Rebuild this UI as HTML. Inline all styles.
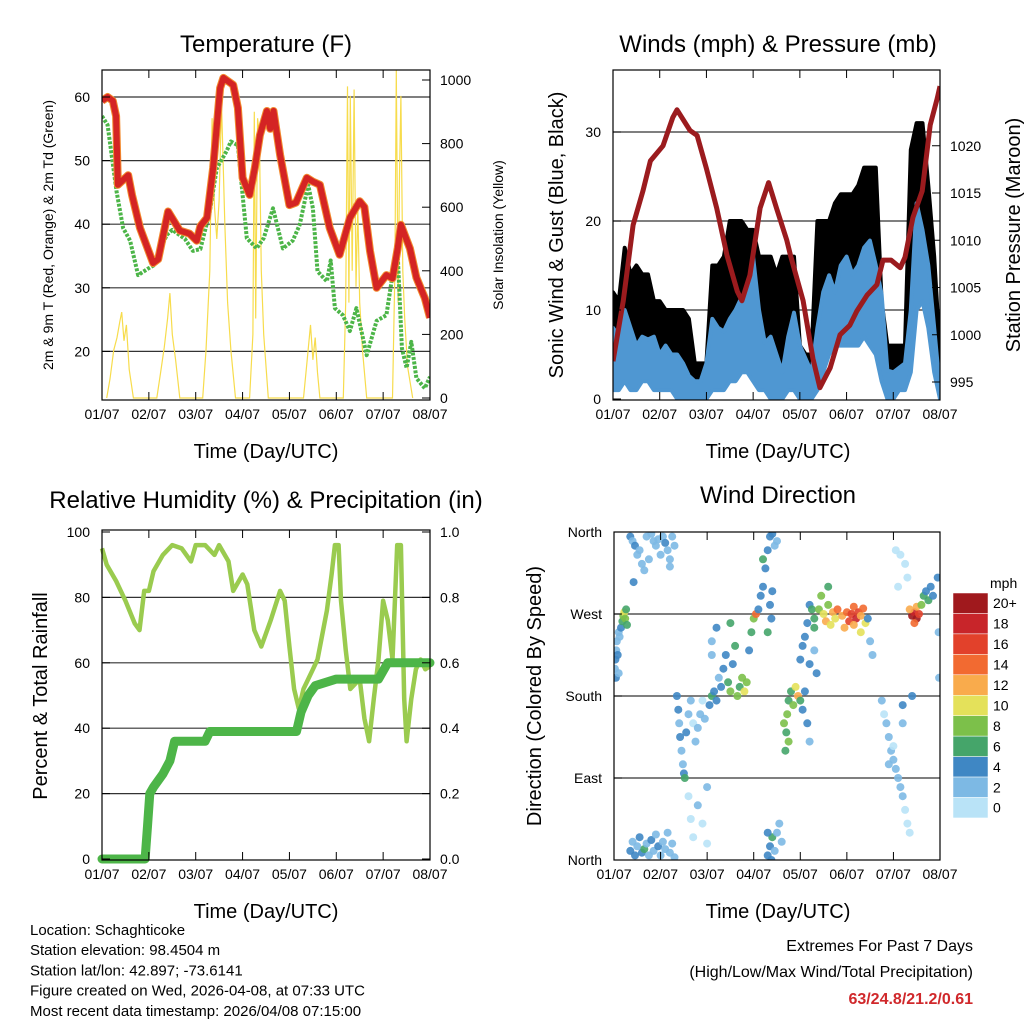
<!DOCTYPE html>
<html><head><meta charset="utf-8"><style>
body{margin:0;background:#fff}
svg{display:block;font-family:"Liberation Sans",Arial,sans-serif}
</style></head><body>
<svg id="chart" width="1024" height="1024" viewBox="0 0 1024 1024"></svg>
<script>
// ---------- DATA ----------
const dayLabels=["01/07","02/07","03/07","04/07","05/07","06/07","07/07","08/07"];
const tempT=[0,0.12,0.23,0.3,0.34,0.56,0.64,0.81,1.09,1.2,1.41,1.66,1.87,2.02,2.1,2.24,2.37,2.52,2.59,2.8,2.9,3.0,3.15,3.26,3.37,3.52,3.59,3.66,3.8,4.0,4.14,4.37,4.5,4.65,4.86,5.07,5.29,5.5,5.6,5.72,5.86,6.07,6.2,6.31,6.38,6.57,6.71,6.89,7.0];
const tempV=[59.4,60,59.4,57,46.2,47.7,44.6,39.4,33.9,34.5,42,39,38.5,37.4,39.7,41,48.8,61.4,63,61.9,58.3,47.3,44.6,48.8,54,57.8,55,57.8,50.9,43,43.4,47.3,46.7,46.2,39.4,35.2,41,43.6,42.7,35.8,30,32,31.5,36.2,39.9,36.2,31.6,28.4,25.3];
const tdT=[0,0.12,0.31,0.45,0.6,0.77,0.98,1.1,1.38,1.5,1.77,1.94,2.1,2.3,2.45,2.66,2.75,2.9,3.0,3.09,3.3,3.45,3.65,3.86,4.07,4.22,4.4,4.5,4.6,4.8,4.88,4.97,5.14,5.29,5.43,5.65,5.86,6.07,6.2,6.31,6.4,6.5,6.6,6.71,6.89,7.0];
const tdV=[57,55.6,45.2,39.4,37.4,32,33,33.5,38.3,39.1,37.7,35.8,36.1,42,48.8,51.5,53,52.4,44.6,37.8,36.2,37.8,42.5,36.2,37.4,39.9,46.2,42.5,32.6,31,34.3,26.8,25.7,23.2,26.8,19.4,24.8,25.7,32,35.2,20.5,17.4,21.5,15.8,14.2,16];
const solarT=[0.10,0.17,0.25,0.32,0.38,0.42,0.47,0.52,0.58,0.67, 1.17,1.25,1.33,1.4,1.45,1.5,1.57,1.66, 2.15,2.22,2.3,2.35,2.4,2.45,2.5,2.55,2.62,2.68,2.75,2.85, 3.15,3.22,3.25,3.28,3.32,3.36,3.4,3.45,3.55, 4.3,4.38,4.45,4.5,4.55,4.6,4.65, 5.15,5.2,5.24,5.27,5.3,5.34,5.38,5.42,5.46,5.5,5.56,5.65, 6.2,6.25,6.28,6.32,6.35,6.38,6.42,6.46,6.52,6.63];
const solarV=[0,60,150,190,240,270,180,230,90,0, 0,80,160,250,330,200,120,0, 0,150,400,880,600,500,620,930,550,300,150,0, 0,200,900,250,880,820,400,200,0, 0,120,230,120,190,80,0, 0,300,980,300,950,400,970,350,600,300,150,0, 0,400,1030,300,700,950,400,250,100,0];
const presT=[0,0.22,0.43,0.64,0.8,1.07,1.28,1.37,1.65,1.8,2.0,2.22,2.44,2.66,2.76,2.93,3.15,3.33,3.5,3.72,3.8,4.07,4.28,4.43,4.65,4.86,5.07,5.22,5.44,5.65,5.78,5.95,6.15,6.25,6.42,6.62,6.79,6.94,7];
const presV=[997.2,1003.6,1011.6,1015.2,1018.4,1020,1023,1023.8,1021.6,1021.1,1017.6,1013.4,1008.4,1004.6,1003.6,1006.3,1013.4,1016.1,1013.4,1010,1008.4,1003.6,997.5,994.4,996.5,1000,1001,1002.5,1004.2,1005.3,1007.9,1007.9,1007.1,1008.2,1012.4,1015.2,1022.2,1025,1026.3];
const windT=[0,0.125,0.25,0.375,0.5,0.625,0.75,0.875,1,1.125,1.25,1.375,1.5,1.625,1.75,1.875,2,2.125,2.25,2.375,2.5,2.625,2.75,2.875,3,3.125,3.25,3.375,3.5,3.625,3.75,3.875,4,4.125,4.25,4.375,4.5,4.625,4.75,4.875,5,5.125,5.25,5.375,5.5,5.625,5.75,5.875,6,6.125,6.25,6.375,6.5,6.625,6.75,6.875,7];
const blueHi=[8,7,10,8,6,7,6.7,7, 5,6,5,5,4,2.6,2,2, 4,9,8,7.6,9,10,11.4,12, 16,10,6.3,7,5,3,7,9.7, 6,4.5,3,8,12,13.9,12,15, 16,14,15,17,17.8,15,11.8,3.2, 3,3.5,4,10,22,19,15,8, 1];
const blueLo=[1,1,2,1,1,2,2,1, 1,1,1,0,0,0,0,0, 0,1,1,1,2,2,3,3, 2,1,1,0,0,0,1,1, 0,0,0,1,3,5,6,6, 6,6,6,7,6,5,2,0, 0,1,1,3,10,11,8,3, 0];
const gustHi=[12,11,17,14,15,14,14,11, 11,10,10,10,10,9,4,4, 4,15,15,16,20,20,20,19, 19,16,16,16,14,16,16,16, 6,5,5,20,20,20,22,23, 23,23,24,26,26,26,11,6, 6,6,6,28,31,31,24,16, 5];
const gustLo=[4,4,5,4,3,4,4,3, 3,3,3,2,1,0,0,0, 1,4,4,4,5,5,6,6, 6,4,3,3,2,1,3,4, 1,1,1,3,6,8,8,9, 10,9,10,11,11,9,5,2, 2,2,2,6,14,13,10,5, 1];
const rhT=[0,0.1,0.3,0.5,0.7,0.8,0.9,1.0,1.1,1.3,1.5,1.7,1.9,2.0,2.2,2.4,2.5,2.7,2.8,3.0,3.1,3.25,3.4,3.6,3.8,3.9,4.0,4.1,4.2,4.3,4.5,4.6,4.8,4.9,4.97,5.05,5.1,5.2,5.3,5.5,5.6,5.7,5.8,5.9,6.0,6.1,6.2,6.3,6.38,6.45,6.5,6.6,6.7,6.8,6.9,7];
const rhV=[95,90,85,79,72,70,82,82,88,93,96,95,91,96,96,93,96,91,82,87,84,70,65,73,82,79,65,52,46,52,58,61,76,87,96,96,79,64,52,55,43,36,49,61,79,73,61,96,96,49,36,49,58,61,58,59];
const precT=[0,0.92,0.97,1.02,1.1,1.3,1.45,1.55,2.2,2.3,4.15,4.25,4.4,4.55,5.0,5.9,6.1,7];
const precV=[0,0,0.1,0.2,0.22,0.26,0.3,0.36,0.36,0.39,0.39,0.45,0.5,0.53,0.55,0.55,0.6,0.6];
const windObs=[
[0.02,210,3],[0.03,220,4],[0.05,230,2],[0.06,240,3],[0.08,225,4],[0.1,250,3],[0.12,245,2],[0.15,255,4],[0.18,262,6],[0.2,268,8],[0.22,272,10],[0.24,265,8],[0.26,275,7],[0.28,258,6],[0.04,200,4],[0.1,205,2],
[0.35,355,4],[0.4,350,3],[0.45,345,4],[0.5,335,3],[0.55,340,2],[0.6,325,3],[0.65,318,2],[0.7,355,2],[0.8,358,2],[0.85,350,3],[0.9,345,2],[0.95,352,3],[1.05,355,2],[1.1,348,4],[1.15,340,2],[1.2,330,3],[1.25,355,2],[1.3,345,2],[0.75,330,3],[1.0,335,2],[0.42,305,4],[1.2,322,2],
[0.35,10,4],[0.4,20,3],[0.45,5,4],[0.5,15,3],[0.55,25,4],[0.6,8,4],[0.65,12,6],[0.7,18,3],[0.75,5,2],[0.8,22,4],[0.85,10,3],[0.9,28,2],[0.95,15,4],[1.0,5,2],[1.05,20,2],[1.1,12,3],[1.15,30,2],[1.2,8,2],[1.25,18,3],[1.3,3,2],
[1.35,180,4],[1.38,165,4],[1.4,150,3],[1.42,135,4],[1.45,120,3],[1.48,105,2],[1.5,95,4],[1.52,90,6],[1.55,140,4],[1.6,160,2],[1.65,175,2],[1.7,150,0],[1.75,130,2],[1.8,145,2],[1.85,160,2],[1.9,175,0],[1.95,155,2],[1.6,70,0],[1.65,45,0],[1.7,25,0],[1.8,60,2],[1.9,40,0],[2.0,80,2],[2.0,18,0],
[2.05,170,4],[2.1,180,6],[2.15,185,4],[2.2,175,4],[2.25,200,2],[2.3,190,4],[2.35,210,4],[2.4,225,4],[2.45,195,6],[2.5,185,8],[2.55,215,4],[2.6,235,6],[2.65,180,8],[2.7,190,6],[2.75,200,8],[2.8,185,10],[2.85,195,8],[2.1,240,2],[2.2,255,4],[2.5,260,6],[2.1,225,2],
[2.9,230,4],[2.95,250,6],[3.0,265,8],[3.05,270,14],[3.1,275,4],[3.15,290,4],[3.2,300,4],[3.25,320,4],[3.3,340,4],[3.35,355,4],[3.4,358,4],[3.45,345,2],[3.3,250,6],[3.35,280,4],[3.4,295,4],[3.5,350,2],[3.38,265,4],[3.2,330,6],
[3.3,5,4],[3.35,15,4],[3.4,25,6],[3.45,10,2],[3.5,30,2],[3.55,40,2],[3.3,30,4],[3.38,0,4],[3.6,20,2],
[3.65,150,8],[3.7,140,6],[3.72,160,8],[3.75,175,6],[3.8,185,6],[3.85,170,8],[3.9,190,10],[3.95,180,12],[4.0,175,6],[4.05,165,4],[4.1,185,4],[4.15,150,4],[4.2,130,2],[3.75,130,8],[3.68,120,6],
[4.0,220,4],[4.05,235,4],[4.1,245,4],[4.15,260,4],[4.2,280,4],[4.25,275,6],[4.2,215,4],[4.3,230,2],[4.35,205,4],
[4.3,265,6],[4.4,275,8],[4.5,270,10],[4.55,262,12],[4.6,280,8],[4.7,272,12],[4.75,265,10],[4.8,275,14],[4.9,268,12],[5.0,272,14],[5.05,262,16],[5.1,270,16],[5.15,278,14],[5.2,265,18],[5.25,272,16],[5.3,268,12],[5.35,276,14],[5.4,260,10],[4.45,290,8],[4.6,300,6],[4.3,255,6],[5.45,265,4],[5.5,240,2],[5.55,225,2],[5.3,250,10],[4.65,258,10],[4.95,255,12],[5.15,258,12],
[5.75,175,2],[5.8,160,0],[5.85,150,2],[5.9,135,2],[5.95,120,2],[6.0,110,2],[6.05,100,2],[6.1,90,2],[6.15,80,2],[6.2,70,2],[6.25,55,0],[6.3,40,0],[6.35,30,0],[5.9,105,2],[6.0,125,0],[6.2,170,4],[6.2,150,2],
[6.05,340,0],[6.15,335,0],[6.25,325,0],[6.3,310,0],[6.1,300,0],
[6.4,268,20],[6.45,272,18],[6.5,265,20],[6.55,270,16],[6.45,260,14],[6.5,278,12],[6.6,280,8],[6.65,290,6],[6.7,295,4],[6.75,285,6],[6.8,300,4],[6.85,290,4],[6.35,275,12],[6.4,180,4],[6.95,310,4],[6.98,200,2],[6.97,250,2]
];
const speedLabels=["0","2","4","6","8","10","12","14","16","18","20+"];
const speedColors=["#b9e3f7","#7db9e4","#3f87c4","#45a56a","#7cc04a","#e4e15a","#f9ab4c","#f26a31","#e2412b","#c8252a","#a0191d"];

// ---------- HELPERS ----------
const NS="http://www.w3.org/2000/svg";
const svg=document.getElementById("chart");
function mk(tag,attrs,parent,txt){const e=document.createElementNS(NS,tag);for(const k in attrs)e.setAttribute(k,attrs[k]);if(txt!==undefined)e.textContent=txt;(parent||svg).appendChild(e);return e;}
function pathOf(ts,vs,fx,fy){return ts.map((t,i)=>(i?"L":"M")+fx(t).toFixed(1)+","+fy(vs[i]).toFixed(1)).join("");}
function bandOf(ts,hi,lo,fx,fy){let d=ts.map((t,i)=>(i?"L":"M")+fx(t).toFixed(1)+","+fy(hi[i]).toFixed(1)).join("");for(let i=ts.length-1;i>=0;i--)d+="L"+fx(ts[i]).toFixed(1)+","+fy(lo[i]).toFixed(1);return d+"Z";}
function clip(id,b){const c=mk("clipPath",{id:id},svg);mk("rect",{x:b.x0,y:b.y0,width:b.x1-b.x0,height:b.y1-b.y0},c);}
function xticks(b,g){
  dayLabels.forEach((l,i)=>{const x=b.x0+i*(b.x1-b.x0)/7;
    mk("line",{x1:x,x2:x,y1:b.y1,y2:b.y1-8,stroke:"#000","stroke-width":1},g);
    mk("line",{x1:x,x2:x,y1:b.y0,y2:b.y0+8,stroke:"#000","stroke-width":1},g);
    const t=mk("text",{x:x,y:b.y1+19,"text-anchor":"middle","font-size":14},g,l);
    
    
  });
}
function yticks(vals,labels,fy,b,side,g){
  vals.forEach((v,i)=>{const y=fy(v);
    if(side==="left"){mk("line",{x1:b.x0,x2:b.x0+8,y1:y,y2:y,stroke:"#000"},g);}
    else{mk("line",{x1:b.x1,x2:b.x1-8,y1:y,y2:y,stroke:"#000"},g);}
    const t=mk("text",{x:side==="left"?b.x0-12:b.x1+10,y:y+5,"text-anchor":side==="left"?"end":"start","font-size":14},g,labels[i]);
    
    
  });
}
function grid(vals,fy,b,g){vals.forEach(v=>{const y=fy(v);mk("line",{x1:b.x0,x2:b.x1,y1:y,y2:y,stroke:"#333","stroke-width":1.2},g);});}
function frame(b,g){const r=mk("rect",{x:b.x0,y:b.y0,width:b.x1-b.x0,height:b.y1-b.y0,fill:"none",stroke:"#000","stroke-width":1.2},g);}
function text(x,y,s,size,name,extra,g){const a=Object.assign({x:x,y:y,"font-size":size},extra||{});const t=mk("text",a,g||svg,s);return t;}
function vtext(x,y,s,size,name,g){const t=mk("text",{x:0,y:0,"font-size":size,"text-anchor":"middle",transform:"translate("+x+","+y+") rotate(-90)"},g||svg,s);return t;}

// ---------- PANEL 1: TEMPERATURE ----------
const B1={x0:102,x1:430,y0:70,y1:400};
const x1s=d=>B1.x0+d*(B1.x1-B1.x0)/7;
const tY=v=>97+(60-v)*6.36;
const sY=v=>398-v*0.318;
const g1=mk("g",{});  
clip("c1",B1);
grid([20,30,40,50,60],tY,B1,g1);
const gd1=mk("g",{"clip-path":"url(#c1)"},g1);
const sol=mk("path",{d:pathOf(solarT,solarV,x1s,sY),fill:"none",stroke:"#f7dc4c","stroke-width":1.2},gd1);
 
const td=mk("path",{d:pathOf(tdT,tdV,x1s,tY),fill:"none",stroke:"#4cb548","stroke-width":4,"stroke-dasharray":"3,1.5","stroke-linejoin":"round"},gd1);
 
const t9=mk("path",{d:pathOf(tempT,tempV,x1s,tY),fill:"none",stroke:"#f28a2e","stroke-width":8,"stroke-linejoin":"round"},gd1);
 
const t2=mk("path",{d:pathOf(tempT,tempV,x1s,tY),fill:"none",stroke:"#d42424","stroke-width":6,"stroke-linejoin":"round"},gd1);
 
frame(B1,g1); xticks(B1,g1);
yticks([20,30,40,50,60],["20","30","40","50","60"],tY,B1,"left",g1);
yticks([0,200,400,600,800,1000],["0","200","400","600","800","1000"],sY,B1,"right",g1);
text(266,52,"Temperature (F)",24,"temperature-title",{"text-anchor":"middle"},g1);
text(266,458,"Time (Day/UTC)",20,"x-axis-title",{"text-anchor":"middle"},g1);
vtext(53,235,"2m & 9m T (Red, Orange) & 2m Td (Green)",14,"temperature-y-title",g1);
vtext(503,235,"Solar Insolation (Yellow)",14,"solar-y-title",g1);

// ---------- PANEL 2: WINDS ----------
const B2={x0:613,x1:940,y0:70,y1:400};
const x2s=d=>B2.x0+d*(B2.x1-B2.x0)/7;
const wY=v=>399-v*8.9;
const pY=p=>382-(p-995)*9.45;
const g2=mk("g",{});  
clip("c2",B2);
grid([10,20,30],wY,B2,g2);
const gd2=mk("g",{"clip-path":"url(#c2)"},g2);
const gb=mk("path",{d:bandOf(windT,gustHi,gustLo,x2s,wY),fill:"#000",stroke:"#000","stroke-width":4,"stroke-linejoin":"round"},gd2);
 
const bb=mk("path",{d:bandOf(windT,blueHi,blueLo,x2s,wY),fill:"#4f97d2",stroke:"#4f97d2","stroke-width":4,"stroke-linejoin":"round"},gd2);
 
const pr=mk("path",{d:pathOf(presT,presV,x2s,pY),fill:"none",stroke:"#9b1b1e","stroke-width":5,"stroke-linejoin":"round"},gd2);
 
frame(B2,g2); xticks(B2,g2);
yticks([0,10,20,30],["0","10","20","30"],wY,B2,"left",g2);
yticks([995,1000,1005,1010,1015,1020],["995","1000","1005","1010","1015","1020"],pY,B2,"right",g2);
text(778,52,"Winds (mph) & Pressure (mb)",24,"winds-title",{"text-anchor":"middle"},g2);
text(778,458,"Time (Day/UTC)",20,"x-axis-title",{"text-anchor":"middle"},g2);
vtext(563,235,"Sonic Wind & Gust (Blue, Black)",20,"wind-y-title",g2);
vtext(1020,235,"Station Pressure (Maroon)",20,"pressure-y-title",g2);

// ---------- PANEL 3: RH ----------
const B3={x0:102,x1:430,y0:530,y1:860};
const x3s=d=>B3.x0+d*(B3.x1-B3.x0)/7;
const rY=v=>859-v*3.27;
const qY=v=>859-v*327;
const g3=mk("g",{});  
clip("c3",{x0:96,x1:436,y0:530,y1:866});
grid([20,40,60,80],rY,B3,g3);
const gd3=mk("g",{"clip-path":"url(#c3)"},g3);
const rh=mk("path",{d:pathOf(rhT,rhV,x3s,rY),fill:"none",stroke:"#9acb4f","stroke-width":4.5,"stroke-linejoin":"round"},gd3);
 
const pc=mk("path",{d:pathOf(precT,precV,x3s,qY),fill:"none",stroke:"#4db548","stroke-width":9,"stroke-linejoin":"round","stroke-linecap":"round"},gd3);
 
frame(B3,g3); xticks(B3,g3);
yticks([0,20,40,60,80,100],["0","20","40","60","80","100"],rY,B3,"left",g3);
yticks([0,0.2,0.4,0.6,0.8,1.0],["0.0","0.2","0.4","0.6","0.8","1.0"],qY,B3,"right",g3);
text(266,508,"Relative Humidity (%) & Precipitation (in)",24,"humidity-title",{"text-anchor":"middle"},g3);
text(266,918,"Time (Day/UTC)",20,"x-axis-title",{"text-anchor":"middle"},g3);
vtext(47,696,"Percent & Total Rainfall",20,"humidity-y-title",g3);

// ---------- PANEL 4: WIND DIRECTION ----------
const B4={x0:614,x1:940,y0:532,y1:860};
const x4s=d=>B4.x0+d*(B4.x1-B4.x0)/7;
const dY=d=>860-d/360*328;
const g4=mk("g",{});  
clip("c4",B4);
grid([90,180,270],dY,B4,g4);
const gd4=mk("g",{"clip-path":"url(#c4)"},g4);
windObs.forEach(o=>{
  const ci=Math.min(10,Math.floor(o[2]/2));
  const c=mk("circle",{cx:x4s(o[0]).toFixed(1),cy:dY(o[1]).toFixed(1),r:4,fill:speedColors[ci],"fill-opacity":0.9},gd4);
  
  
});
frame(B4,g4); xticks(B4,g4);
yticks([0,90,180,270,360],["North","East","South","West","North"],dY,B4,"left",g4);
text(778,503,"Wind Direction",24,"wind-direction-title",{"text-anchor":"middle"},g4);
text(778,918,"Time (Day/UTC)",20,"x-axis-title",{"text-anchor":"middle"},g4);
vtext(541,696,"Direction (Colored By Speed)",20,"direction-y-title",g4);
// colorbar
const gc=mk("g",{});  
const cbTop=593,cbH=20.45;
speedLabels.forEach((l,i)=>{const k=10-i;const y=cbTop+i*cbH;
  const r=mk("rect",{x:953,y:y,width:35,height:cbH,fill:speedColors[k],stroke:"#fff","stroke-width":0.5},gc);
   
  text(993,y+cbH/2+5,speedLabels[k],14,"colorbar-label",{},gc);
});
text(990,588,"mph",14,"colorbar-unit",{},gc);

// ---------- FOOTER ----------
const foot=["Location: Schaghticoke","Station elevation: 98.4504 m","Station lat/lon: 42.897; -73.6141","Figure created on Wed, 2026-04-08, at 07:33 UTC","Most recent data timestamp: 2026/04/08 07:15:00"];
foot.forEach((s,i)=>text(30,935+i*20.2,s,15,"station-info-line"));
text(973,951,"Extremes For Past 7 Days",16,"extremes-title",{"text-anchor":"end"});
text(973,977,"(High/Low/Max Wind/Total Precipitation)",16,"extremes-subtitle",{"text-anchor":"end"});
text(973,1004,"63/24.8/21.2/0.61",16,"extremes-values",{"text-anchor":"end",fill:"#d0282b","font-weight":"bold"});
</script>
</body></html>
